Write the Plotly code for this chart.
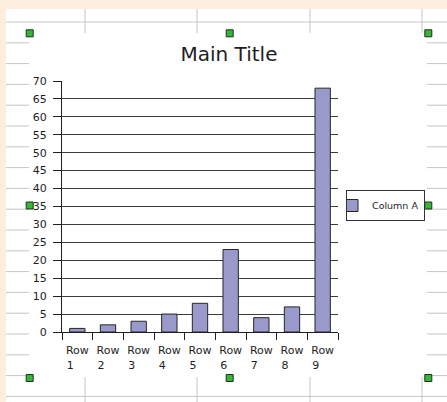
import plotly.graph_objects as go

# ---- data -------------------------------------------------------------
categories = ["Row 1", "Row 2", "Row 3", "Row 4", "Row 5",
              "Row 6", "Row 7", "Row 8", "Row 9"]
column_a = [1, 2, 3, 5, 8, 23, 4, 7, 68]
series_name = "Column A"
y_ticks = list(range(0, 75, 5))
title_text = "Main Title"

# ---- canvas geometry (pixels) -------------------------------------------
W, H = 447, 402
ML, MR, MT, MB = 62, 109, 81, 70
PW = W - ML - MR
PH = H - MT - MB

FONT = "DejaVu Sans"
INK = "#1e1e1e"
BAR_FILL = "#9999cc"
SHEET_BG = "#fdeedd"
SHEET_GRID = "#c6c6c6"


def px(x):
    """pixel x -> paper fraction"""
    return (x - ML) / PW


def py(y):
    """pixel y (from top) -> paper fraction"""
    return (H - MB - y) / PH


NBSP = "\u00a0"
tick_text = []
for c in categories:
    word, num = c.split(" ")
    tick_text.append(f"{word}<br>{num}{NBSP * 4}")

shapes = []

# spreadsheet window edge
shapes.append(dict(type="rect", xref="paper", yref="paper", layer="below",
                   x0=px(0), x1=px(6), y0=py(H), y1=py(0),
                   fillcolor=SHEET_BG, line=dict(width=0)))
shapes.append(dict(type="rect", xref="paper", yref="paper", layer="below",
                   x0=px(0), x1=px(W), y0=py(9), y1=py(0),
                   fillcolor=SHEET_BG, line=dict(width=0)))

# spreadsheet row lines peeking out around the chart object
row_step = 20.8
for k in range(19):
    yy = 22 + row_step * k
    if k == 0 or k == 18:
        segs = [(6, W)]
    else:
        segs = [(6, 29), (427, W)]
    for a, b in segs:
        shapes.append(dict(type="line", xref="paper", yref="paper", layer="below",
                           x0=px(a), x1=px(b), y0=py(yy), y1=py(yy),
                           line=dict(color=SHEET_GRID, width=1)))

# spreadsheet column lines above and below the chart object
for xx in (85, 197, 310, 422):
    for a, b in ((9, 33), (377, H)):
        shapes.append(dict(type="line", xref="paper", yref="paper", layer="below",
                           x0=px(xx), x1=px(xx), y0=py(a), y1=py(b),
                           line=dict(color=SHEET_GRID, width=1)))

# selection handles around the chart object
for hx in (29.7, 229.7, 428.3):
    for hy in (33.3, 205.5, 378):
        if hx == 229.7 and hy == 205.5:
            continue
        shapes.append(dict(type="rect", xref="paper", yref="paper", layer="above",
                           x0=px(hx - 3.5), x1=px(hx + 3.5),
                           y0=py(hy + 3.5), y1=py(hy - 3.5),
                           fillcolor="#36b636",
                           line=dict(color="#1f2f1f", width=1)))

fig = go.Figure()
fig.add_trace(go.Bar(
    x=categories, y=column_a, name=series_name,
    width=0.5,
    marker=dict(color=BAR_FILL, line=dict(color="#262626", width=1)),
    showlegend=True,
))

fig.update_layout(
    width=W, height=H,
    margin=dict(l=ML, r=MR, t=MT, b=MB, pad=0, autoexpand=False),
    paper_bgcolor="white", plot_bgcolor="white",
    font=dict(family=FONT, color=INK, size=11),
    title=dict(text=title_text, font=dict(family=FONT, size=20, color=INK),
               xref="paper", x=px(229), xanchor="center",
               yref="container", y=1 - 54 / H, yanchor="middle"),
    showlegend=True,
    legend=dict(x=px(346), xanchor="left", y=py(205.5), yanchor="middle",
                bordercolor="#333333", borderwidth=1, bgcolor="white",
                font=dict(family=FONT, size=9.5, color=INK),
                itemwidth=30, indentation=-15,
                tracegroupgap=0),
    shapes=shapes,
    bargap=0.5,
)

fig.update_xaxes(
    type="category", range=[-0.5, len(categories) - 0.5],
    tickmode="array", tickvals=categories, ticktext=tick_text,
    tickangle=0,
    tickson="boundaries", ticks="outside", ticklen=7, tickcolor=INK,
    showline=True, linecolor=INK, linewidth=1,
    showgrid=False, zeroline=False,
    tickfont=dict(family=FONT, size=11, color=INK),
    ticklabelstandoff=8,
)
fig.update_yaxes(
    range=[0, 70], tickmode="array", tickvals=y_ticks,
    ticks="outside", ticklen=8, tickcolor=INK,
    showline=True, linecolor=INK, linewidth=1,
    showgrid=True, gridcolor="#3c3c3c", gridwidth=1, zeroline=False,
    tickfont=dict(family=FONT, size=11, color=INK),
    ticklabelstandoff=4,
)

fig.write_html("out.html")
